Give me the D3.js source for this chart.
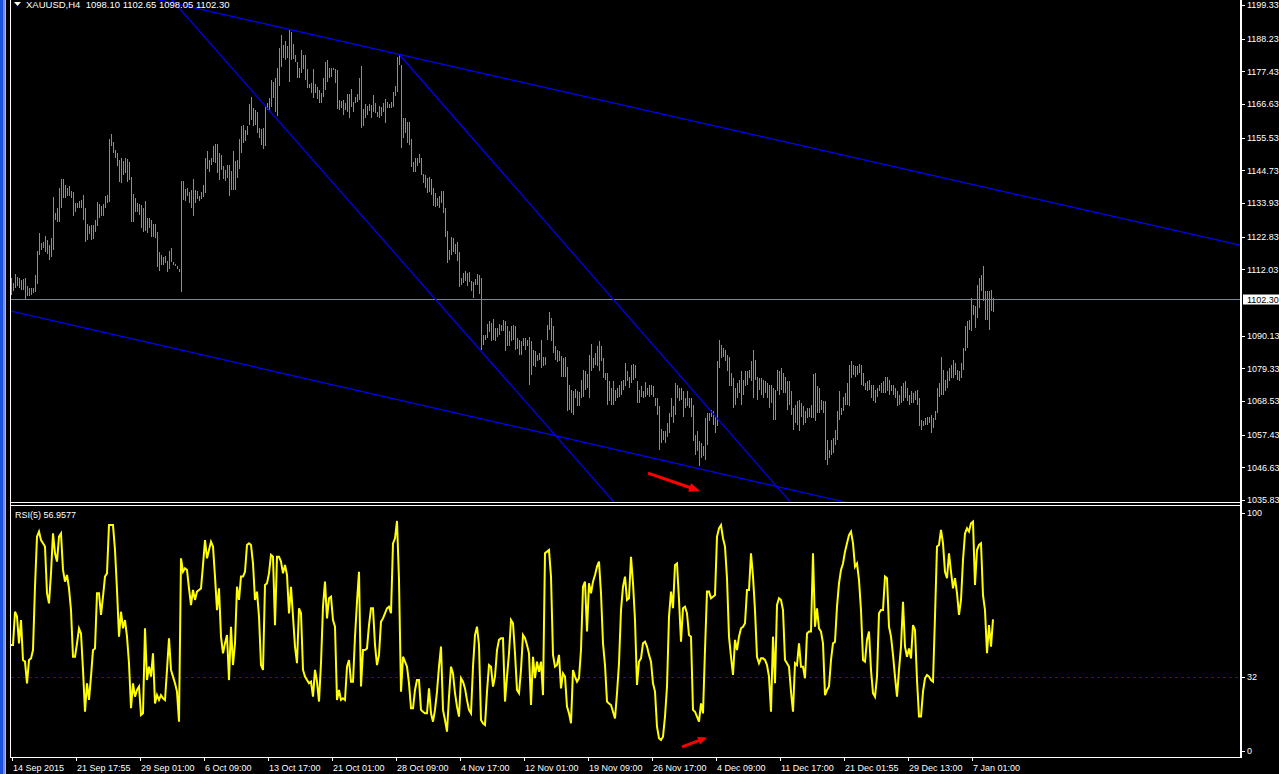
<!DOCTYPE html>
<html><head><meta charset="utf-8">
<script src="https://cdn.jsdelivr.net/npm/d3@7"></script>
<style>
html,body{margin:0;padding:0;background:#000;overflow:hidden;}
svg{display:block;}
text{font-family:"Liberation Sans",Arial,sans-serif;font-size:9px;fill:#fff;}
</style></head><body>
<svg id="c" width="1279" height="774"></svg>
<script>
// ---------------- DATA ----------------
const symbolLabel = "XAUUSD,H4";
const lastOHLC = [1098.10, 1102.65, 1098.05, 1102.30];
const rsiLabel = "RSI(5) 56.9577";

const highs = [
1109.1,1107.5,1110.4,1109.6,1109.3,1108.6,1108.9,1109.1,1106.6,1105.8,
1105.8,1105.8,1110.0,1118.1,1123.9,1120.6,1121.2,1123.1,1121.8,1120.1,
1122.3,1135.8,1130.5,1132.2,1139.0,1141.9,1141.9,1139.9,1138.8,1139.7,
1137.9,1137.7,1133.9,1133.9,1134.6,1135.0,1136.6,1132.2,1127.0,1126.2,
1126.7,1126.7,1128.4,1134.2,1133.5,1132.8,1133.5,1136.1,1136.6,1155.1,
1156.8,1154.0,1151.5,1150.4,1148.2,1148.7,1147.8,1148.7,1148.4,1147.4,
1142.4,1136.9,1135.5,1133.9,1133.6,1133.3,1132.2,1134.6,1128.9,1128.9,
1128.4,1127.0,1127.0,1124.3,1117.7,1116.8,1116.2,1116.5,1114.8,1118.1,
1119.2,1114.6,1113.7,1113.2,1112.1,1141.3,1141.3,1138.5,1138.8,1137.7,
1138.2,1141.9,1138.2,1138.0,1136.3,1137.4,1139.9,1148.7,1151.1,1148.2,
1148.7,1152.6,1153.4,1153.4,1150.4,1149.8,1146.0,1144.8,1146.5,1146.5,
1144.5,1151.1,1147.8,1148.2,1155.1,1159.5,1159.7,1158.0,1159.4,1166.5,
1169.0,1165.2,1164.6,1163.9,1158.8,1158.4,1158.6,1166.0,1167.1,1168.5,
1174.6,1173.8,1175.3,1178.4,1185.0,1189.4,1186.1,1187.4,1185.9,1191.0,
1190.3,1186.6,1182.8,1180.4,1178.6,1184.4,1182.8,1182.8,1178.1,1173.4,
1173.7,1178.1,1173.4,1172.4,1171.2,1170.2,1175.1,1180.6,1181.2,1178.4,
1178.6,1178.6,1178.1,1177.8,1168.0,1167.6,1168.0,1166.8,1169.9,1169.8,
1171.6,1167.2,1169.0,1169.9,1175.1,1179.2,1164.9,1166.5,1166.1,1166.6,
1166.3,1169.6,1167.1,1164.1,1166.0,1165.5,1166.8,1168.3,1167.4,1166.5,
1167.4,1170.7,1172.7,1182.2,1182.8,1179.5,1161.9,1161.9,1160.8,1160.6,
1155.1,1147.6,1148.7,1148.7,1150.0,1148.9,1143.5,1143.2,1142.1,1142.6,
1141.9,1139.0,1137.2,1135.7,1136.1,1138.0,1138.0,1132.4,1124.7,1118.4,
1122.8,1122.3,1120.3,1121.2,1117.7,1109.1,1110.8,1111.5,1110.8,1111.3,
1108.3,1108.0,1108.9,1110.4,1110.2,1109.3,1090.4,1090.2,1094.0,1094.8,
1094.2,1095.7,1092.6,1092.6,1093.9,1093.7,1095.4,1094.8,1093.2,
1091.5,1093.4,1093.7,1093.2,1089.3,1088.8,1088.2,1089.3,1089.3,1088.8,
1089.6,1088.2,1085.4,1085.1,1083.8,1084.4,1088.8,1083.2,1083.2,1093.7,
1097.9,1095.9,1093.4,1086.6,1085.4,1084.9,1083.5,1082.7,1083.2,1079.6,
1073.9,1072.2,1071.7,1072.5,1071.9,1071.4,1075.6,1078.8,1078.3,1077.4,
1083.8,1087.3,1082.7,1084.4,1086.6,1088.2,1086.6,1082.7,1077.8,1077.8,
1075.0,1072.8,1075.0,1072.2,1072.8,1073.9,1075.0,1075.6,1081.0,1078.3,
1076.6,1080.3,1080.7,1080.5,1075.0,1072.2,1073.4,1071.7,1074.8,1072.8,
1073.7,1073.9,1073.4,1069.5,1069.5,1066.8,1059.4,1058.7,1058.5,1061.2,
1064.6,1069.5,1066.8,1074.4,1073.9,1072.8,1072.8,1071.7,1069.5,1071.7,
1069.5,1069.5,1067.3,1057.4,1058.5,1055.2,1054.6,1053.6,1062.9,1064.6,
1064.6,1065.6,1065.1,1063.1,1081.6,1088.8,1087.1,1086.0,1085.4,1083.8,
1083.2,1077.8,1076.1,1072.8,1074.4,1075.6,1078.5,1075.6,1078.3,1078.3,
1078.8,1081.6,1085.4,1082.2,1076.6,1076.1,1076.1,1075.6,1075.0,1074.4,
1073.9,1073.9,1072.8,1072.2,1078.8,1078.3,1079.4,1077.8,1076.6,1075.0,
1075.0,1071.7,1066.2,1067.3,1068.4,1069.0,1067.8,1066.8,1065.1,1066.2,
1066.2,1067.3,1077.4,1077.8,1073.4,1072.8,1069.0,1068.4,1068.4,1055.8,
1052.4,1055.8,1056.3,1059.0,1065.1,1071.7,1066.2,1070.0,1071.2,1074.4,
1080.5,1081.6,1080.5,1080.0,1080.0,1080.7,1080.5,1077.8,1074.4,1075.0,
1075.6,1073.9,1073.9,1072.2,1072.8,1073.9,1074.4,1075.0,1076.6,1076.6,
1075.6,1073.9,1073.9,1072.8,1071.7,1070.6,1073.4,1074.4,1075.0,1072.8,
1070.6,1071.7,1071.2,1071.7,1072.2,1069.5,1062.4,1061.8,1062.9,1063.4,
1063.4,1064.0,1062.9,1065.1,1072.8,1074.4,1083.2,1078.8,1075.6,1078.3,
1079.4,1080.5,1082.2,1081.0,1078.8,1078.3,1081.0,1086.0,1093.2,1094.8,
1095.4,1102.5,1100.3,1099.8,1106.9,1109.1,1110.2,1113.0,1104.7,1104.7,
1104.7,1105.2,1102.65];

const lows = [
1103.4,1104.7,1105.8,1106.4,1105.8,1105.2,1105.2,1102.3,1103.1,1103.1,
1103.6,1104.1,1104.4,1107.1,1116.8,1118.5,1119.0,1117.9,1117.0,1115.2,
1116.2,1118.5,1128.4,1127.5,1127.5,1132.4,1135.5,1135.7,1136.1,1136.1,
1135.5,1129.5,1130.8,1132.2,1132.2,1132.4,1128.4,1121.2,1121.8,1123.6,
1121.8,1122.0,1124.5,1126.2,1128.9,1129.5,1129.8,1132.4,1133.9,1134.1,
1152.6,1150.4,1148.9,1146.2,1140.8,1140.5,1143.2,1143.8,1141.0,1141.6,
1127.8,1127.8,1131.1,1131.1,1130.0,1125.6,1124.3,1124.7,1124.0,1125.6,
1122.6,1122.6,1122.3,1112.7,1111.5,1113.5,1113.5,1114.1,1111.1,1112.2,
1114.4,1113.5,1113.0,1112.1,1111.1,1104.4,1135.0,1134.6,1136.1,1133.9,
1132.2,1129.8,1133.9,1135.2,1134.6,1135.2,1135.8,1137.2,1145.2,1144.3,
1146.5,1147.6,1147.0,1143.8,1141.6,1144.8,1141.8,1141.2,1142.3,1136.4,
1138.2,1138.2,1138.2,1142.1,1145.2,1150.6,1153.6,1154.4,1156.4,1159.7,
1161.4,1159.2,1159.7,1157.0,1155.3,1153.1,1151.8,1152.6,1164.6,1164.3,
1165.8,1168.5,1163.9,1162.8,1172.6,1179.0,1181.7,1181.2,1181.7,1174.0,
1181.2,1181.4,1180.6,1175.3,1175.1,1176.8,1178.1,1174.6,1171.8,1171.8,
1170.2,1168.7,1170.2,1168.2,1167.1,1167.1,1169.0,1171.2,1174.0,1175.1,
1175.6,1177.8,1173.7,1164.9,1164.6,1165.2,1163.0,1164.6,1164.1,1162.1,
1165.8,1164.1,1167.1,1167.4,1168.0,1158.6,1159.4,1162.1,1163.0,1164.3,
1162.1,1163.9,1163.6,1162.4,1162.1,1162.8,1163.9,1160.5,1165.2,1165.2,
1165.2,1165.8,1169.4,1170.7,1179.5,1152.0,1155.3,1157.0,1153.6,1153.1,
1145.8,1144.3,1144.3,1146.0,1147.0,1143.2,1140.4,1138.8,1137.2,1137.7,
1136.6,1132.8,1132.5,1132.8,1132.4,1133.9,1130.6,1122.8,1114.0,1115.2,
1116.8,1117.9,1117.0,1114.9,1106.1,1106.9,1107.4,1108.2,1106.4,1108.0,
1105.0,1102.7,1106.9,1106.9,1103.8,1085.4,1087.1,1088.8,1089.3,1091.3,
1088.2,1088.8,1088.2,1089.8,1090.4,1091.5,1091.7,1084.9,1086.6,
1086.6,1088.2,1088.8,1085.4,1085.8,1083.8,1083.8,1086.6,1085.4,1086.6,
1073.9,1077.2,1080.0,1079.6,1081.6,1082.2,1079.4,1080.0,1080.5,1088.8,
1092.0,1088.2,1084.4,1082.2,1081.4,1081.6,1076.6,1076.6,1076.6,1065.1,
1065.6,1064.6,1064.0,1069.5,1066.8,1066.8,1069.5,1070.0,1072.2,1072.8,
1069.5,1078.3,1079.4,1080.5,1080.0,1078.3,1081.6,1076.1,1075.6,1067.3,
1068.4,1067.3,1067.3,1068.4,1069.5,1070.0,1070.6,1072.2,1073.4,1075.0,
1072.8,1074.4,1075.6,1076.1,1067.8,1067.8,1069.7,1069.5,1069.7,1070.6,
1070.0,1070.4,1070.0,1066.8,1064.0,1052.4,1054.6,1055.8,1054.6,1056.8,
1058.0,1063.4,1061.2,1064.0,1069.5,1068.4,1069.0,1063.4,1066.2,1066.8,
1066.2,1063.4,1055.2,1050.8,1051.9,1047.0,1049.7,1050.2,1049.2,1054.1,
1061.8,1063.4,1060.7,1058.0,1060.2,1079.4,1082.7,1083.2,1081.6,1078.3,
1073.4,1073.4,1066.2,1067.3,1069.5,1071.2,1067.3,1070.6,1073.4,1073.9,
1076.1,1075.0,1069.5,1075.6,1069.0,1072.2,1070.6,1069.5,1071.2,1069.5,
1066.2,1067.8,1062.4,1062.4,1071.7,1070.6,1072.2,1071.2,1071.2,1065.6,
1067.3,1064.0,1059.0,1061.2,1060.7,1058.5,1063.4,1060.7,1061.2,1062.9,
1063.4,1062.9,1062.9,1061.8,1064.6,1064.6,1065.6,1064.6,1049.2,1047.5,
1049.7,1050.8,1051.4,1054.1,1055.8,1062.4,1064.0,1065.1,1067.3,1067.3,
1066.8,1076.1,1077.2,1076.6,1077.2,1077.8,1073.9,1073.4,1072.2,1071.7,
1072.2,1069.5,1068.4,1067.8,1070.0,1071.7,1071.2,1071.2,1071.2,1071.7,
1070.6,1071.7,1070.6,1069.5,1066.8,1067.3,1067.8,1068.4,1069.5,1068.4,
1067.3,1067.8,1067.8,1069.0,1067.3,1060.2,1059.0,1060.2,1060.7,1060.7,
1061.2,1058.0,1059.6,1062.4,1064.6,1070.0,1070.6,1070.6,1071.7,1072.8,
1075.0,1076.1,1076.1,1077.2,1075.6,1075.0,1076.1,1078.8,1084.9,1086.0,
1092.0,1091.5,1097.0,1092.6,1095.9,1099.2,1104.7,1101.4,1095.4,1095.4,
1092.0,1098.1,1098.05];

const rsiValues = [
45.9,45.9,60.3,58.2,46.6,56.7,39.4,38.7,29.3,39.4,
40.1,43.7,71.1,92.8,95.0,91.3,89.9,88.5,68.3,63.9,
76.9,94.2,85.6,82.0,92.8,94.2,78.4,73.3,76.2,70.4,
61.0,40.8,40.8,46.6,53.1,50.9,35.1,17.0,29.3,22.1,
32.2,43.7,44.4,68.3,68.3,58.9,66.8,75.5,76.9,97.8,
97.8,97.8,87.0,69.7,49.5,60.3,53.1,56.7,49.5,38.0,
18.5,29.3,23.5,26.4,27.9,15.6,16.3,53.1,30.7,36.5,
32.2,42.3,20.6,24.2,22.1,24.2,22.8,22.1,35.1,48.8,
35.1,32.2,29.3,25.7,12.7,83.4,77.6,79.1,78.4,70.4,
63.2,69.7,65.4,69.0,69.7,70.4,80.5,91.3,83.4,87.0,
90.6,88.5,75.5,61.0,70.4,49.5,42.3,46.6,50.2,30.7,
53.8,37.2,46.6,71.1,65.4,75.5,75.5,77.6,89.2,89.9,
89.2,81.2,65.4,69.0,58.2,37.2,35.1,71.9,72.6,76.9,
84.9,84.1,54.5,84.1,84.1,82.0,76.9,80.5,76.2,59.6,
71.1,58.2,45.2,38.0,61.8,59.6,35.1,32.2,30.7,29.3,
30.0,23.5,35.1,30.0,21.4,38.0,62.5,73.3,57.4,66.1,
66.8,56.7,53.8,22.1,26.4,22.1,22.8,22.1,36.5,39.4,
30.0,30.0,49.5,64.6,77.6,27.9,43.7,43.7,44.4,54.5,
61.8,61.8,45.9,37.2,41.6,56.0,57.4,59.6,61.8,62.5,
59.6,89.9,92.1,99.6,74.0,25.7,40.8,38.7,36.5,29.3,
18.5,18.5,26.4,30.7,30.7,17.8,17.0,16.3,16.3,27.1,
16.3,12.7,17.8,25.7,36.5,45.2,17.8,13.4,8.4,23.5,
36.5,33.6,25.0,19.2,14.9,31.5,30.0,27.1,22.1,17.8,
16.3,36.5,50.2,53.8,45.9,13.4,12.0,11.3,25.7,37.2,
36.5,27.9,32.2,43.7,48.1,48.8,48.8,21.4,32.2,42.3,
56.7,55.3,42.3,26.4,25.0,35.1,50.2,48.8,45.9,42.3,
19.9,40.8,31.5,38.7,34.3,38.7,24.2,85.6,86.3,87.0,
75.5,41.6,36.5,37.2,41.6,27.1,33.6,32.2,19.2,16.3,
12.0,35.1,32.2,30.0,31.5,43.7,71.1,73.3,51.7,72.6,
68.3,73.3,76.2,79.8,82.0,68.3,46.6,37.2,21.4,20.6,
19.9,17.0,14.1,25.0,38.0,61.0,71.1,75.5,65.4,66.1,
84.1,72.6,56.7,28.6,38.7,40.1,46.6,47.3,45.2,41.6,
38.7,29.3,25.7,10.5,5.5,4.8,6.2,14.9,27.9,58.2,
69.0,61.8,80.5,81.2,65.4,47.3,61.8,62.5,59.6,50.2,
49.5,17.8,17.0,14.9,12.7,20.6,16.3,43.7,69.0,69.0,
66.1,66.8,67.5,92.8,96.4,97.8,92.1,88.5,74.8,49.5,
40.8,32.9,48.1,43.7,49.5,53.1,53.8,55.3,69.7,69.7,
85.6,75.5,61.0,40.8,38.0,40.1,40.1,39.4,37.2,32.2,
17.0,49.5,29.3,63.2,66.1,65.4,61.0,39.4,38.0,36.5,
25.7,17.0,38.0,37.2,46.6,36.5,36.5,31.5,50.9,51.7,
51.7,85.6,53.8,61.8,53.1,51.7,46.6,24.2,26.4,27.9,
39.4,46.6,47.3,62.5,72.6,78.4,81.2,86.3,89.9,93.5,
95.0,89.9,79.8,81.2,74.0,61.0,39.4,38.7,48.1,51.7,
35.1,25.0,23.5,32.2,59.6,61.0,61.0,75.5,74.8,53.8,
49.5,41.6,32.2,23.5,35.1,45.2,64.6,45.2,40.8,44.4,
40.1,54.5,52.4,30.7,14.9,14.9,25.7,31.5,32.9,32.2,
30.7,30.0,58.2,88.5,89.2,95.7,89.9,77.6,74.8,85.6,
77.6,70.4,74.8,68.3,58.9,65.4,82.7,94.2,96.4,95.0,
98.6,99.3,71.9,87.0,89.2,89.9,67.5,61.0,42.3,54.5,
45.2,56.96];

const priceTicks = [1199.33,1188.23,1177.43,1166.63,1155.53,1144.73,1133.93,1122.83,1112.03,1090.13,1079.33,1068.53,1057.43,1046.63,1035.83];
const bidPrice = 1102.30;
const rsiTicks = [100, 32, 0];
const rsiLevel = 32;
const dateTickIndex = [0,32,64,96,128,160,192,224,256,288,320,352,384,416,448,480];
const dateTickLabels = ["14 Sep 2015","21 Sep 17:55","29 Sep 01:00","6 Oct 09:00","13 Oct 17:00","21 Oct 01:00","28 Oct 09:00","4 Nov 17:00","12 Nov 01:00","19 Nov 09:00","26 Nov 17:00","4 Dec 09:00","11 Dec 17:00","21 Dec 01:55","29 Dec 13:00","7 Jan 01:00"];

// trend lines: two anchor points [barIndex, price] and drawn span [fromIndex, toIndex]
const trendUpper = [[129.35, 1192.72], [494.5, 1137.99]];
const trendUpperSpan = [60, 640];
const trendLower = [[0, 1098.22], [357.85, 1044.08]];
const trendLowerSpan = [-0.5, 640];
const channelA = [[91.5, 1192.72], [248.5, 1074.90]];
const channelASpan = [70, 400];
const channelB = [[194.35, 1182.81], [377.85, 1044.08]];
const channelBSpan = [194.35, 500];
// annotation arrows [barIndex, value]
const arrowPrice = [[318.5, 1044.7], [344.5, 1038.8]];
const arrowRsi = [[335.5, 1.8], [348.0, 5.8]];

// ---------------- DRAW ----------------
const svg = d3.select("#c");
const xScale = d3.scaleLinear().domain([0, 491]).range([11, 993]);
const yPrice = d3.scaleLinear().domain([1035.83, 1199.33]).range([500, 5]);
const yRsi = d3.scaleLinear().domain([0, 100]).range([751, 520]);

svg.append("rect").attr("width",1279).attr("height",774).attr("fill","#000");
// window edge on the left
svg.append("rect").attr("x",0).attr("y",0).attr("width",3).attr("height",774).attr("fill","#1d4fe0");
svg.append("rect").attr("x",3).attr("y",0).attr("width",2).attr("height",774).attr("fill","#6d8fe6");
svg.append("rect").attr("x",5).attr("y",0).attr("width",1).attr("height",774).attr("fill","#a9b8d6");

const defs = svg.append("defs");
defs.append("clipPath").attr("id","clipP").append("rect").attr("x",11).attr("y",0).attr("width",1229).attr("height",502);
defs.append("clipPath").attr("id","clipR").append("rect").attr("x",11).attr("y",506).attr("width",1229).attr("height",251);

const gP = svg.append("g").attr("clip-path","url(#clipP)");
const gR = svg.append("g").attr("clip-path","url(#clipR)");

// bars
const bars = highs.map((h,i)=>({i, h, l: lows[i]}));
gP.selectAll("line.bar").data(bars).join("line").attr("class","bar")
  .attr("x1", d=>Math.round(xScale(d.i))+0.5).attr("x2", d=>Math.round(xScale(d.i))+0.5)
  .attr("y1", d=>Math.round(yPrice(d.h))).attr("y2", d=>Math.max(Math.round(yPrice(d.l)), Math.round(yPrice(d.h))+1))
  .attr("stroke","#32cd32").attr("stroke-width",1).attr("shape-rendering","crispEdges");

// bid line
const yBid = Math.round(yPrice(bidPrice))+0.5;
gP.append("line").attr("x1",11).attr("x2",1240).attr("y1",yBid).attr("y2",yBid)
  .attr("stroke","#778899").attr("stroke-width",1).attr("shape-rendering","crispEdges");

// header
svg.append("path").attr("d","M14,2L21,2L17.5,6Z").attr("fill","#fff");
svg.append("text").attr("x",26).attr("y",7.5).style("font-size","9.5px").attr("xml:space","preserve")
  .text(symbolLabel + "  " + lastOHLC.map(v=>v.toFixed(2)).join(" "));

// trend lines
function extended(pts, span){
  const x1=xScale(pts[0][0]), y1=yPrice(pts[0][1]), x2=xScale(pts[1][0]), y2=yPrice(pts[1][1]);
  const m=(y2-y1)/(x2-x1);
  return span.map(s=>{const x=xScale(s); return [x, y1+m*(x-x1)];});
}
[[trendUpper,trendUpperSpan],[trendLower,trendLowerSpan],[channelA,channelASpan],[channelB,channelBSpan]].forEach(([pts,span])=>{
  gP.append("path").attr("d", d3.line()(extended(pts,span)))
    .attr("stroke","#0000ff").attr("stroke-width",1.2).attr("fill","none");
});

// arrows
function drawArrow(g, pts, yS, shaft, headLen, headW){
  const x0=xScale(pts[0][0]), y0=yS(pts[0][1]), x1=xScale(pts[1][0]), y1=yS(pts[1][1]);
  const dx=x1-x0, dy=y1-y0, L=Math.hypot(dx,dy), ux=dx/L, uy=dy/L;
  const bx=x1-ux*headLen, by=y1-uy*headLen;
  g.append("line").attr("x1",x0).attr("y1",y0).attr("x2",bx+ux).attr("y2",by+uy)
    .attr("stroke","#ff0000").attr("stroke-width",shaft);
  g.append("path").attr("d",`M${x1},${y1}L${bx-uy*headW/2},${by+ux*headW/2}L${bx+uy*headW/2},${by-ux*headW/2}Z`)
    .attr("fill","#ff0000");
}
drawArrow(gP, arrowPrice, yPrice, 3, 11, 9);

// RSI
const yL = Math.round(yRsi(rsiLevel))+0.5;
gR.append("line").attr("x1",11).attr("x2",1240).attr("y1",yL).attr("y2",yL)
  .attr("stroke","#4b0082").attr("stroke-dasharray","3,3").attr("shape-rendering","crispEdges");
gR.append("path").datum(rsiValues)
  .attr("d", d3.line().x((d,i)=>xScale(i)).y(d=>yRsi(d)))
  .attr("fill","none").attr("stroke","#ffff00").attr("stroke-width",2);
drawArrow(gR, arrowRsi, yRsi, 3, 9, 8);
svg.append("text").attr("x",15).attr("y",518).text(rsiLabel);

// borders
const border = svg.append("g").attr("stroke","#fff").attr("shape-rendering","crispEdges").attr("fill","none");
border.append("line").attr("x1",10.5).attr("x2",10.5).attr("y1",0).attr("y2",758);
border.append("rect").attr("x",1240).attr("y",0).attr("width",2).attr("height",758).attr("fill","#fff").attr("stroke","none");
border.append("line").attr("x1",10).attr("x2",1242).attr("y1",502.5).attr("y2",502.5);
border.append("line").attr("x1",10).attr("x2",1242).attr("y1",505.5).attr("y2",505.5);
border.append("line").attr("x1",10).attr("x2",1242).attr("y1",757.5).attr("y2",757.5);

// price axis
const pAxis = svg.append("g").attr("transform","translate(1242,0)")
  .call(d3.axisRight(yPrice).tickValues(priceTicks).tickSize(3).tickPadding(2).tickFormat(d3.format(".2f")));
pAxis.select(".domain").remove();
pAxis.selectAll("line").attr("stroke","#fff").attr("shape-rendering","crispEdges");
pAxis.selectAll("text").attr("fill","#fff").style("font-family","Liberation Sans, Arial, sans-serif").style("font-size","9px");

// bid label box
svg.append("rect").attr("x",1243).attr("y",yBid-5).attr("width",36).attr("height",10).attr("fill","#fff");
svg.append("text").attr("x",1247).attr("y",yBid).attr("dy","0.35em").style("fill","#000").text(bidPrice.toFixed(2));

// rsi axis (top label is pushed inside the sub-window like the terminal does)
const rsiTop = d3.max(rsiTicks);
const rsiTickY = v => v === rsiTop ? yRsi(v) - 7 : yRsi(v);
const rAxis = svg.append("g").attr("transform","translate(1242,0)")
  .call(d3.axisRight(yRsi).tickValues(rsiTicks).tickSize(3).tickPadding(2).tickFormat(d3.format("d")));
rAxis.select(".domain").remove();
rAxis.selectAll(".tick").attr("transform", d=>`translate(0,${rsiTickY(d)})`);
rAxis.selectAll("line").attr("stroke","#fff").attr("shape-rendering","crispEdges");
rAxis.selectAll("text").attr("fill","#fff").style("font-family","Liberation Sans, Arial, sans-serif").style("font-size","9px");

// time axis
const tAxis = svg.append("g").attr("transform","translate(0.5,757)")
  .call(d3.axisBottom(xScale).tickValues(dateTickIndex).tickSize(4).tickFormat((d,k)=>dateTickLabels[k]));
tAxis.select(".domain").remove();
tAxis.selectAll("line").attr("stroke","#fff").attr("shape-rendering","crispEdges");
tAxis.selectAll("text").attr("fill","#fff").attr("text-anchor","start").attr("x",1).attr("y",14).attr("dy",0)
  .style("font-family","Liberation Sans, Arial, sans-serif").style("font-size","9px");
</script>
</body></html>
